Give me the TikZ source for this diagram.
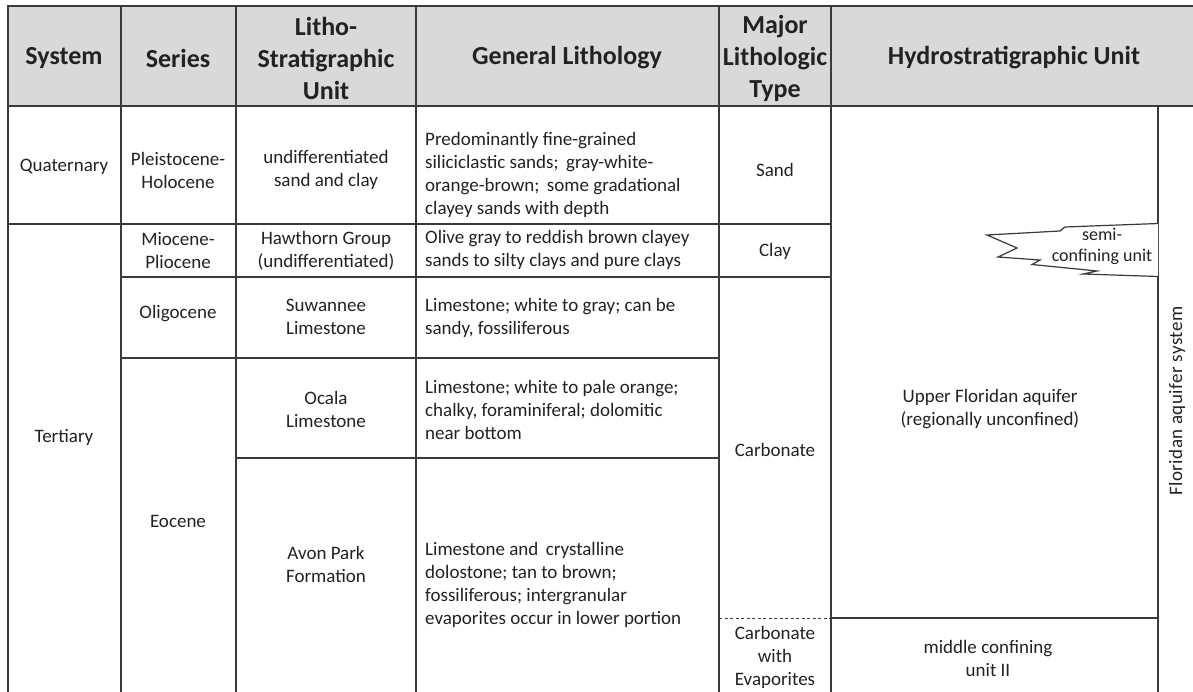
\documentclass[tikz,border=0pt]{standalone}
\usepackage{fontspec}
\setmainfont{Carlito}
\definecolor{lc}{HTML}{3A3A3A}
\definecolor{hd}{HTML}{D9D9D9}
\definecolor{tx}{HTML}{222222}
\begin{document}
\begin{tikzpicture}[x=1pt,y=-1pt,
  grid/.style={draw=lc, line width=1.3pt},
  body/.style={font=\fontsize{19}{23}\selectfont, align=center, inner sep=0pt, text=tx},
  bodyl/.style={body, align=left, anchor=west},
  head/.style={font=\fontsize{26}{32}\selectfont\bfseries, align=center, inner sep=0pt, text=tx}]
\useasboundingbox (0,0) rectangle (1193,692);
\fill[white] (0,0) rectangle (1193,692);
% header band
\fill[hd] (8,6) rectangle (1193,106);
% grid
\draw[grid] (1193,6) -- (8,6) -- (8,692);
\draw[grid] (8,106) -- (1193,106);
\foreach \xx in {121,236,416,719,831} {\draw[grid] (\xx,6) -- (\xx,692);}
\draw[grid] (1158,106) -- (1158,692);
\draw[grid] (8,224) -- (831,224);
\draw[grid] (121,277) -- (831,277);
\draw[grid] (121,358) -- (719,358);
\draw[grid] (236,458) -- (719,458);
\draw[draw=lc, line width=1pt, dash pattern=on 3pt off 2.5pt] (719,618) -- (831,618);
\draw[grid] (831,618) -- (1158,618);
% header texts
\node[head] (hsys) at (64,58) {System};
\node[head] (hser) at (178,58) {Series};
\node[head] (hlit) at (326,58) {Litho-\\Stratigraphic\\Unit};
\node[head] (hgen) at (567,58) {General Lithology};
\node[head] (hmaj) at (775,58) {Major\\Lithologic\\Type};
\node[head] (hhyd) at (1014,58) {Hydrostratigraphic Unit};
% system column
\node[body] (quat) at (64,167) {Quaternary};
\node[body] (tert) at (64,437) {Tertiary};
% series column
\node[body] (plei) at (178,170) {Pleistocene-\\Holocene};
\node[body] (mioc) at (178,251) {Miocene-\\Pliocene};
\node[body] (olig) at (178,314) {Oligocene};
\node[body] (eoce) at (178,521) {Eocene};
% litho-stratigraphic unit column
\node[body] (undi) at (326,170) {undifferentiated\\sand and clay};
\node[body] (hawt) at (326,251) {Hawthorn Group\\(undifferentiated)};
\node[body] (suwa) at (326,317) {Suwannee\\Limestone};
\node[body] (ocal) at (326,409) {Ocala\\Limestone};
\node[body] (avon) at (326,564) {Avon Park\\Formation};
% general lithology column
\node[bodyl] (gq) at (425,175) {Predominantly fine-grained\\siliciclastic sands;\, gray-white-\\orange-brown;\, some gradational\\clayey sands with depth};
\node[bodyl] (gh) at (425,250) {Olive gray to reddish brown clayey\\sands to silty clays and pure clays};
\node[bodyl] (gs) at (425,318) {Limestone; white to gray; can be\\sandy, fossiliferous};
\node[bodyl] (go) at (425,410) {Limestone; white to pale orange;\\chalky, foraminiferal; dolomitic\\near bottom};
\node[bodyl] (ga) at (425,585) {Limestone and\, crystalline\\dolostone; tan to brown;\\fossiliferous; intergranular\\evaporites occur in lower portion};
% major lithologic type column
\node[body] (sand) at (775,170) {Sand};
\node[body] (clay) at (775,251) {Clay};
\node[body] (carb) at (775,450) {Carbonate};
\node[body] (carbev) at (775,657) {Carbonate\\with\\Evaporites};
% hydrostratigraphic unit column
\node[body] (ufa) at (990,409) {Upper Floridan aquifer\\(regionally unconfined)};
\node[body] (mcu) at (988,658) {middle confining\\unit II};
\node[body, rotate=90] (fas) at (1177,401) {\addfontfeature{LetterSpace=2.5}Floridan aquifer system};
% semi-confining unit wedge
\draw[draw=lc, line width=1.2pt, fill=white, line join=miter]
  (1158,223.5) -- (1065,227) -- (1060,231) -- (987,235) -- (1017,248) -- (998,257)
  -- (1040,260) -- (1032,264.5) -- (1097,271) -- (1083,274) -- (1158,276.5);
\node[body, font=\fontsize{18}{21}\selectfont] (semi) at (1102,246) {semi-\\confining unit};
\end{tikzpicture}
\end{document}
